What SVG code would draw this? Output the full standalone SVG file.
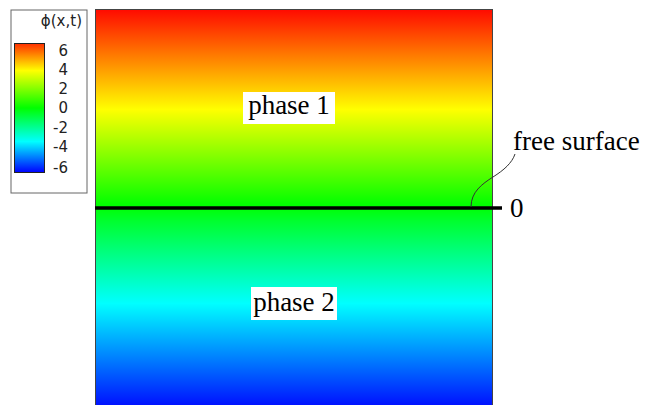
<svg xmlns="http://www.w3.org/2000/svg" width="646" height="405" viewBox="0 0 646 405">
  <style>
    .serif { font-family: "Liberation Serif", "Times New Roman", serif; font-size: 27px; fill: #000; }
    .sans { font-family: "DejaVu Sans", "Liberation Sans", Arial, sans-serif; font-size: 15px; fill: #222; }
    .label-bg { fill: #fff; }
  </style>
  <defs>
    <linearGradient id="mainGrad" x1="0" y1="0" x2="0" y2="1">
      <stop offset="0" stop-color="#ff0a00"/>
      <stop offset="0.25" stop-color="#ffff00"/>
      <stop offset="0.49" stop-color="#00ff00"/>
      <stop offset="0.53" stop-color="#00ff30"/>
      <stop offset="0.735" stop-color="#00ffff"/>
      <stop offset="1" stop-color="#0008ff"/>
    </linearGradient>
    <linearGradient id="barGrad" x1="0" y1="0" x2="0" y2="1">
      <stop offset="0" stop-color="#ff3000"/>
      <stop offset="0.21" stop-color="#ffff00"/>
      <stop offset="0.5" stop-color="#00ff00"/>
      <stop offset="0.76" stop-color="#00ffff"/>
      <stop offset="1" stop-color="#0000ff"/>
    </linearGradient>
  </defs>

  <g id="legend">
    <rect x="11" y="10" width="76" height="183" fill="#fff" stroke="#666" stroke-width="1"/>
    <text class="sans" x="82" y="26" text-anchor="end">ϕ(x,t)</text>
    <rect x="14.5" y="43.5" width="30" height="129" fill="url(#barGrad)" stroke="#222" stroke-width="1"/>
    <text class="sans" x="68" y="56" text-anchor="end">6</text>
    <text class="sans" x="68" y="75" text-anchor="end">4</text>
    <text class="sans" x="68" y="94" text-anchor="end">2</text>
    <text class="sans" x="68" y="113" text-anchor="end">0</text>
    <text class="sans" x="68" y="133" text-anchor="end">-2</text>
    <text class="sans" x="68" y="152" text-anchor="end">-4</text>
    <text class="sans" x="68" y="173" text-anchor="end">-6</text>
  </g>

  <g id="domain">
    <rect x="95.5" y="9.5" width="397" height="400" fill="url(#mainGrad)" stroke="#444" stroke-width="1"/>
  </g>

  <g id="phase1">
    <rect class="label-bg" x="243" y="92" width="92" height="32"/>
    <text class="serif" x="289" y="114" text-anchor="middle">phase 1</text>
  </g>

  <g id="phase2">
    <rect class="label-bg" x="251" y="287" width="86" height="33"/>
    <text class="serif" x="294" y="311" text-anchor="middle">phase 2</text>
  </g>

  <g id="connectors">
    <line x1="95" y1="208" x2="502" y2="208" stroke="#000" stroke-width="3.5"/>
    <path d="M471,207 C471,192 482,184 493,177 C504,170 512,163 515,154" fill="none" stroke="#333" stroke-width="1"/>
  </g>

  <g id="freeSurfaceLabel">
    <text class="serif" x="513" y="150">free surface</text>
  </g>

  <g id="zeroLabel">
    <text class="serif" x="510" y="217">0</text>
  </g>
</svg>
